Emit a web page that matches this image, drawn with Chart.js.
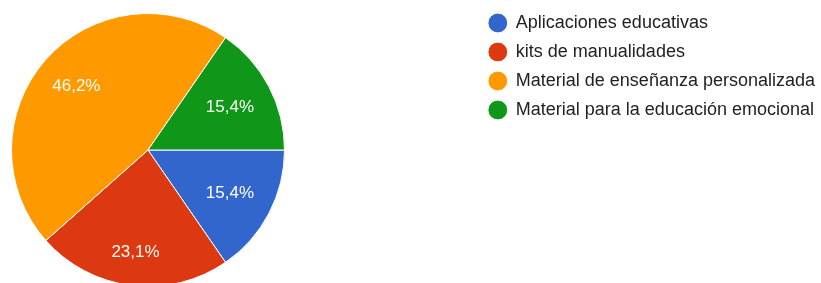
<!DOCTYPE html>
<html>
<head>
<meta charset="utf-8">
<script src="https://cdn.jsdelivr.net/npm/chart.js@4/dist/chart.umd.min.js"></script>
<style>
  html, body { margin:0; padding:0; background:#fff; }
  #wrap { width:821px; height:283px; overflow:hidden; position:relative; }
  canvas { display:block; }
</style>
</head>
<body>
<div id="wrap"><canvas id="pieChart" width="825" height="300"></canvas></div>
<script>
const categories = ["Aplicaciones educativas","kits de manualidades","Material de enseñanza personalizada","Material para la educación emocional"];
const counts = [2, 3, 6, 2];
const sliceColors = ["#3366cc","#dc3912","#ff9900","#109618"];

// pie sits at the left, legend at the top right
const pieArea = {left:11, top:13, right:285, bottom:287};

const pieAreaPlugin = {
  id:'pieArea',
  afterLayout(chart){
    const a = chart.chartArea;
    a.left = pieArea.left; a.top = pieArea.top;
    a.right = pieArea.right; a.bottom = pieArea.bottom;
    a.width = a.right - a.left; a.height = a.bottom - a.top;
  }
};

// percentage text inside each slice, a bit further out toward top/bottom
const pctLabels = {
  id:'pctLabels',
  afterDatasetsDraw(chart){
    const ctx = chart.ctx;
    const meta = chart.getDatasetMeta(0);
    const total = counts.reduce((s,v)=>s+v,0);
    ctx.save();
    ctx.font = '17px Arial, "Liberation Sans", sans-serif';
    ctx.fillStyle = '#fffdf5';
    ctx.textAlign = 'center';
    ctx.textBaseline = 'middle';
    meta.data.forEach((arc,i)=>{
      const frac = counts[i]/total;
      const mid = (arc.startAngle + arc.endAngle)/2;
      const s = Math.sin(mid);
      const r = arc.outerRadius*(0.655 + 0.105*s*s);
      const x = arc.x + Math.cos(mid)*r;
      const y = arc.y + s*r;
      ctx.fillText((frac*100).toFixed(1).replace('.',',') + '%', x, y);
    });
    ctx.restore();
  }
};

const ctx = document.getElementById('pieChart').getContext('2d');
const pieChart = new Chart(ctx,{
  type:'pie',
  data:{
    labels:categories,
    datasets:[{
      data:counts,
      backgroundColor:sliceColors,
      borderColor:'#ffffff',
      borderWidth:1
    }]
  },
  options:{
    responsive:false,
    animation:false,
    rotation:90,
    layout:{padding:{top:3, right:0}},
    plugins:{
      tooltip:{enabled:false},
      legend:{
        position:'right',
        align:'start',
        labels:{
          usePointStyle:true,
          pointStyle:'circle',
          boxWidth:18,
          boxHeight:14,
          padding:11,
          color:'#222222',
          font:{size:18, family:'Arial, "Liberation Sans", sans-serif'}
        }
      }
    }
  },
  plugins:[pieAreaPlugin, pctLabels]
});
</script>
</body>
</html>
